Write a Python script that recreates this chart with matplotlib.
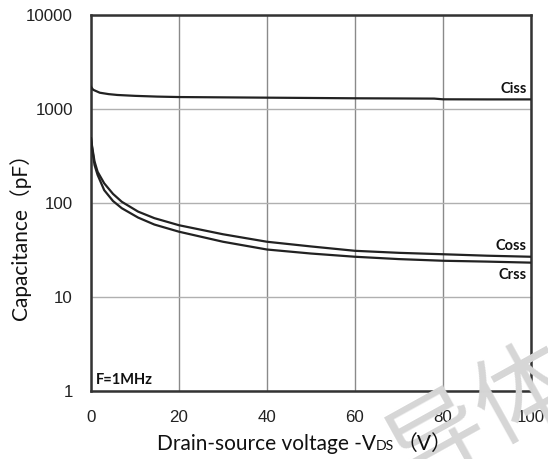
import matplotlib
matplotlib.use("Agg")
import matplotlib.pyplot as plt

# Data
ciss_x = [0, 0.5, 2, 4, 6, 10, 15, 20, 30, 40, 50, 60, 70, 78, 80, 90, 100]
ciss_y = [1720, 1600, 1490, 1440, 1410, 1380, 1355, 1340, 1330, 1320, 1310, 1300, 1295, 1290, 1268, 1265, 1265]

coss_x = [0, 0.25, 0.8, 1.5, 3, 5, 7, 10.7, 14.4, 20, 30, 40, 50, 60, 70, 80, 90, 100]
coss_y = [488, 400, 277, 215, 162, 125, 103, 81, 69, 58, 46.5, 38.7, 34.5, 31, 29.5, 28.5, 27.5, 26.8]

crss_x = [0, 0.25, 0.8, 1.5, 3, 5, 7, 10.7, 14.4, 20, 30, 40, 50, 60, 70, 80, 90, 100]
crss_y = [488, 385, 254, 199, 137, 105, 88, 70, 59, 49.5, 38.7, 32, 29, 26.8, 25.3, 24.3, 23.8, 23.2]

x_ticks = [0, 20, 40, 60, 80, 100]
y_ticks = [1, 10, 100, 1000, 10000]
y_ticklabels = ["1", "10", "100", "1000", "10000"]

W, H = 548, 459
fig = plt.figure(figsize=(W / 100, H / 100), dpi=100)
ax = fig.add_axes([91 / W, 1 - 391 / H, (531 - 91) / W, (391 - 15) / H])
ax.set_yscale("log")
ax.set_xlim(0, 100)
ax.set_ylim(1, 10000)

line_kw = dict(color="#222222", lw=1.6, zorder=3)
ax.plot(ciss_x, ciss_y, **line_kw)
ax.plot(coss_x, coss_y, **line_kw)
ax.plot(crss_x, crss_y, **line_kw)

ax.set_xticks(x_ticks)
ax.set_xticklabels([str(v) for v in x_ticks])
ax.set_yticks(y_ticks)
ax.set_yticklabels(y_ticklabels)
ax.minorticks_off()
ax.tick_params(length=0, labelsize=12.2, colors="#222222")
ax.tick_params(axis="y", pad=13)
ax.tick_params(axis="x", pad=13.5)
for lab in ax.get_xticklabels() + ax.get_yticklabels():
    lab.set_family(["Liberation Sans", "DejaVu Sans"])

ax.grid(True, which="major", axis="x", color="#8a8a8a", lw=1.0)
ax.grid(True, which="major", axis="y", color="#b0b0b0", lw=1.0)
ax.set_axisbelow(True)
for s in ax.spines.values():
    s.set_color("#333333")
    s.set_linewidth(1.8)

lblfont = ["Lato", "Noto Sans CJK SC", "DejaVu Sans"]
fs = 15
fig.text(20 / W, 1 - 232 / H, "Capacitance（pF）", family=lblfont, fontsize=fs,
         rotation=90, ha="center", va="center", color="#111111", zorder=3)

# x label composed of pieces (smaller "DS" on the baseline)
r = fig.canvas.get_renderer()
y_base = 1 - 450 / H
t1 = fig.text(157 / W, y_base, "Drain-source voltage -V", family=lblfont, fontsize=fs,
              ha="left", va="baseline", color="#111111", zorder=3)
bb = t1.get_window_extent(r)
t2 = fig.text(bb.x1 / W, y_base, "DS", family=lblfont, fontsize=fs * 0.68,
              ha="left", va="baseline", color="#111111", zorder=3)
bb2 = t2.get_window_extent(r)
fig.text(bb2.x1 / W + 0.004, y_base, "（V）", family=lblfont, fontsize=fs,
         ha="left", va="baseline", color="#111111", zorder=3)

bold = dict(family=["Lato", "DejaVu Sans"], fontweight="bold", fontsize=10.5, color="#111111")
ax.text(99, 1265 * 1.1, "Ciss", ha="right", va="bottom", **bold)
ax.text(99, 26.8 * 1.1, "Coss", ha="right", va="bottom", **bold)
ax.text(99, 23.2 * 0.88, "Crss", ha="right", va="top", **bold)
ax.text(1.2, 1.3, "F=1MHz", ha="left", va="center", **bold)

# faint watermark (behind the figure texts, over the axes)
fig.text(482 / W, 1 - 418 / H, "导体", family=["Noto Sans CJK SC"], fontsize=70, color="#d6d6d6",
         rotation=29, ha="center", va="center", zorder=1)

fig.savefig("out.png", dpi=100)
